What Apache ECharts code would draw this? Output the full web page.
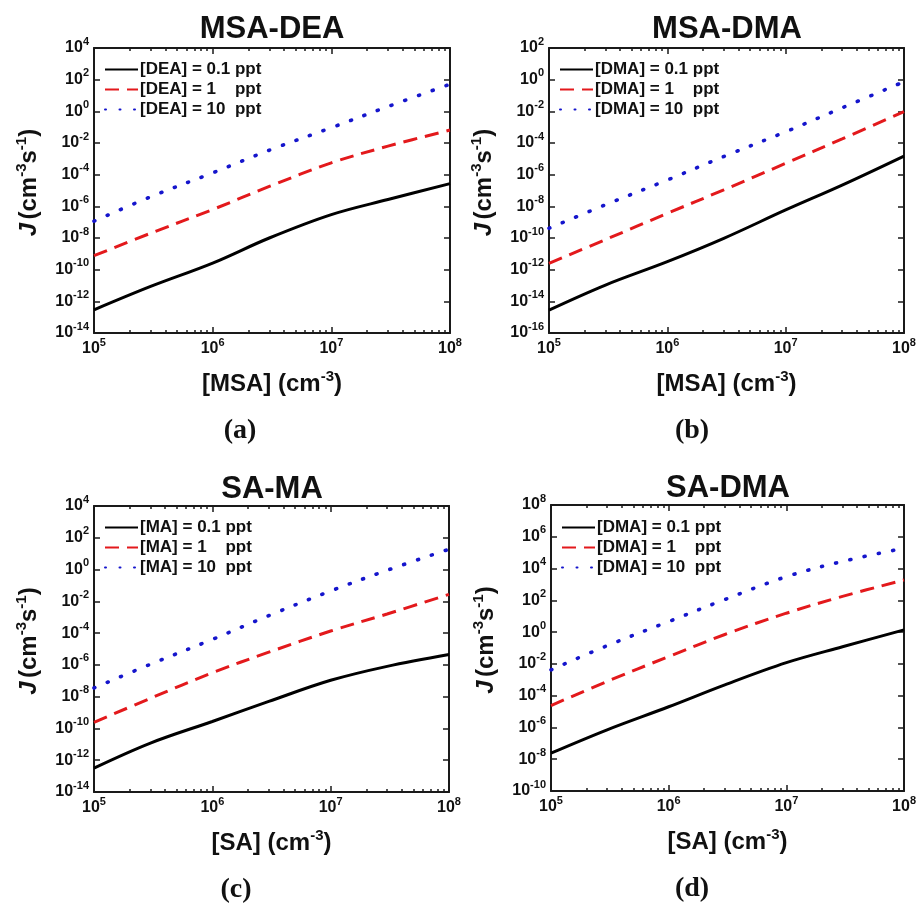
<!DOCTYPE html>
<html>
<head>
<meta charset="utf-8">
<script src="https://cdn.jsdelivr.net/npm/echarts@6/dist/echarts.min.js"></script>
<style>html,body{margin:0;padding:0;background:#fff;}#c{width:919px;height:905px;}</style>
</head>
<body>
<div id="c"></div>
<script>
// ---------- data ----------
const xs = [1e5, 3e5, 1e6, 3e6, 1e7, 3e7, 1e8];

const aBlack = [2.9e-13, 8.7e-12, 2.6e-10, 1.0e-8, 3.0e-7, 2.7e-6, 2.7e-5];
const aRed   = [7.6e-10, 2.0e-8, 6.3e-7, 1.8e-5, 5.6e-4, 6.3e-3, 6.6e-2];
const aBlue  = [1.15e-7, 4.0e-6, 1.3e-4, 3.5e-3, 9.3e-2, 2.0, 52];

const bBlack = [2.8e-15, 1.07e-13, 3.2e-12, 9.5e-11, 5.9e-9, 2.2e-7, 1.5e-5];
const bRed   = [2.5e-12, 7.9e-11, 3.6e-9, 1.1e-7, 5.2e-6, 1.8e-4, 9.5e-3];
const bBlue  = [4.1e-10, 1.26e-8, 4.6e-7, 1.4e-5, 5.1e-4, 1.66e-2, 0.74];

const cBlack = [3.2e-13, 1.2e-11, 2.75e-10, 5.0e-9, 1.07e-7, 8.1e-7, 4.5e-6];
const cRed   = [2.4e-10, 7.9e-9, 3.2e-7, 6.3e-6, 1.35e-4, 1.6e-3, 2.75e-2];
const cBlue  = [3.5e-8, 1.1e-6, 4.0e-5, 1.26e-3, 4.5e-2, 0.9, 19];

const dBlack = [2.4e-8, 7.1e-7, 2.0e-5, 4.8e-4, 1.2e-2, 0.12, 1.38];
const dRed   = [2.4e-5, 7.9e-4, 2.9e-2, 0.71, 15.5, 178, 1900];
const dBlue  = [4.2e-3, 0.14, 4.6, 112, 3100, 2.8e4, 1.9e5];

const titles = ['MSA-DEA', 'MSA-DMA', 'SA-MA', 'SA-DMA'];
const panelTags = ['(a)', '(b)', '(c)', '(d)'];
const xNames = ['[MSA]', '[MSA]', '[SA]', '[SA]'];
const legendA = ['[DEA] = 0.1 ppt', '[DEA] = 1    ppt', '[DEA] = 10  ppt'];
const legendB = ['[DMA] = 0.1 ppt', '[DMA] = 1    ppt', '[DMA] = 10  ppt'];
const legendC = ['[MA] = 0.1 ppt', '[MA] = 1    ppt', '[MA] = 10  ppt'];
const legendD = ['[DMA] = 0.1 ppt', '[DMA] = 1    ppt', '[DMA] = 10  ppt'];

const xMajorTicks = [1e5, 1e6, 1e7, 1e8];
const xMinorTicks = [2e5,3e5,4e5,5e5,6e5,7e5,8e5,9e5, 2e6,3e6,4e6,5e6,6e6,7e6,8e6,9e6, 2e7,3e7,4e7,5e7,6e7,7e7,8e7,9e7];
const yTicksA = [1e-14,1e-12,1e-10,1e-8,1e-6,1e-4,1e-2,1e0,1e2,1e4];
const yTicksB = [1e-16,1e-14,1e-12,1e-10,1e-8,1e-6,1e-4,1e-2,1e0,1e2];
const yTicksC = [1e-14,1e-12,1e-10,1e-8,1e-6,1e-4,1e-2,1e0,1e2,1e4];
const yTicksD = [1e-10,1e-8,1e-6,1e-4,1e-2,1e0,1e2,1e4,1e6,1e8];

// ---------- layout ----------
const panels = [
  {grid:{left:94, top:48, width:356, height:285}, yT:yTicksA, s:[aBlack,aRed,aBlue], leg:legendA, legPos:[104,61], title:[272,29], tag:[240,431]},
  {grid:{left:549, top:48, width:355, height:285}, yT:yTicksB, s:[bBlack,bRed,bBlue], leg:legendB, legPos:[559,61], title:[727,29], tag:[692,431]},
  {grid:{left:94, top:506, width:355, height:286}, yT:yTicksC, s:[cBlack,cRed,cBlue], leg:legendC, legPos:[104,519], title:[272,489], tag:[236,890]},
  {grid:{left:551, top:505, width:354, height:286}, yT:yTicksD, s:[dBlack,dRed,dBlue], leg:legendD, legPos:[561,519], title:[728,488], tag:[692,889]}
];

const SANS = 'Liberation Sans, Arial, sans-serif';
const AX = '#1a1a1a';
const supFmt = v => '{b|10}{s|' + Math.round(Math.log10(v)) + '}';
const tickRich = {
  b: {fontSize:16, fontWeight:'bold', fontFamily:SANS, color:'#111', lineHeight:24},
  s: {fontSize:11, fontWeight:'bold', fontFamily:SANS, color:'#111', lineHeight:12, verticalAlign:'top'}
};
const nameRich = {
  it: {fontSize:24, fontWeight:'bold', fontStyle:'italic', fontFamily:SANS, color:'#111', lineHeight:30},
  n: {fontSize:24, fontWeight:'bold', fontFamily:SANS, color:'#111', lineHeight:30},
  sup: {fontSize:15, fontWeight:'bold', fontFamily:SANS, color:'#111', lineHeight:16, verticalAlign:'top'}
};
const lineStyles = [
  {color:'#000000', width:3, type:'solid'},
  {color:'#e3191c', width:3, type:[14,8]},
  {color:'#1515cc', width:3.6, type:[1,13.5], cap:'round'}
];

const grid = [], xAxis = [], yAxis = [], series = [], legend = [], graphic = [];
panels.forEach((p, i) => {
  grid.push(p.grid);
  const yMin = p.yT[0], yMax = p.yT[p.yT.length-1];
  const base = {gridIndex:i, type:'log', logBase:10, min:1e5, max:1e8, splitLine:{show:false}, minorTick:{show:false}, minorSplitLine:{show:false}};
  const xi = xAxis.length;
  xAxis.push(Object.assign({}, base, {position:'bottom',
    axisLine:{show:true, onZero:false, lineStyle:{color:AX, width:2}},
    axisTick:{show:true, inside:true, length:6, lineStyle:{color:AX, width:1.5}, customValues:xMajorTicks},
    axisLabel:{show:true, margin:4, customValues:xMajorTicks, formatter:supFmt, rich:tickRich},
    name:'{n|' + xNames[i] + ' (cm}{sup|-3}{n|)}', nameLocation:'middle', nameGap:36, nameTextStyle:{rich:nameRich}
  }));
  xAxis.push(Object.assign({}, base, {position:'bottom',
    axisLine:{show:false, onZero:false}, axisLabel:{show:false},
    axisTick:{show:true, inside:true, length:3, lineStyle:{color:AX, width:1.5}, customValues:xMinorTicks}}));
  xAxis.push(Object.assign({}, base, {position:'top',
    axisLine:{show:true, onZero:false, lineStyle:{color:AX, width:2}}, axisLabel:{show:false},
    axisTick:{show:true, inside:true, length:6, lineStyle:{color:AX, width:1.5}, customValues:xMajorTicks}}));
  xAxis.push(Object.assign({}, base, {position:'top',
    axisLine:{show:false, onZero:false}, axisLabel:{show:false},
    axisTick:{show:true, inside:true, length:3, lineStyle:{color:AX, width:1.5}, customValues:xMinorTicks}}));
  const yi = yAxis.length;
  const ybase = {gridIndex:i, type:'log', logBase:10, min:yMin, max:yMax, splitLine:{show:false}, minorTick:{show:false}};
  yAxis.push(Object.assign({}, ybase, {position:'left',
    axisLine:{show:true, onZero:false, lineStyle:{color:AX, width:2}},
    axisTick:{show:true, inside:true, length:6, lineStyle:{color:AX, width:1.5}, customValues:p.yT},
    axisLabel:{show:true, margin:5, customValues:p.yT, formatter:supFmt, rich:tickRich},
    name:'{it|J} {n|(cm}{sup|-3}{n|s}{sup|-1}{n|)}', nameLocation:'middle', nameGap:50,
    nameTextStyle:{rich:nameRich, padding:[0,0,0,16]}
  }));
  yAxis.push(Object.assign({}, ybase, {position:'right',
    axisLine:{show:true, onZero:false, lineStyle:{color:AX, width:2}}, axisLabel:{show:false},
    axisTick:{show:true, inside:true, length:6, lineStyle:{color:AX, width:1.5}, customValues:p.yT}}));

  p.s.forEach((arr, k) => {
    series.push({
      type:'line', name:p.leg[k], xAxisIndex:xi, yAxisIndex:yi,
      data: xs.map((x, j) => [x, arr[j]]),
      smooth:0.35, symbol:'none', showSymbol:false, lineStyle:lineStyles[k], itemStyle:{color:lineStyles[k].color},
      silent:true, z:3
    });
  });
  legend.push({
    left:p.legPos[0], top:p.legPos[1], orient:'vertical', data:p.leg, selectedMode:false,
    itemWidth:33, itemHeight:14, itemGap:3, padding:0,
    itemStyle:{opacity:0},
    textStyle:{fontSize:17, fontWeight:'bold', fontFamily:SANS, color:'#111', padding:[0,0,0,-3]}
  });
  graphic.push({type:'text', x:p.title[0], y:p.title[1], style:{text:titles[i], fill:'#111', font:'bold 31px ' + SANS, textAlign:'center', textVerticalAlign:'middle'}});
  graphic.push({type:'text', x:p.tag[0], y:p.tag[1], style:{text:panelTags[i], fill:'#111', font:'bold 28px "Liberation Serif", "Times New Roman", serif', textAlign:'center', textVerticalAlign:'middle'}});
});

const chart = echarts.init(document.getElementById('c'), null, {renderer:'canvas'});
chart.setOption({backgroundColor:'#ffffff', animation:false, grid, xAxis, yAxis, series, legend, graphic});
</script>
</body>
</html>
